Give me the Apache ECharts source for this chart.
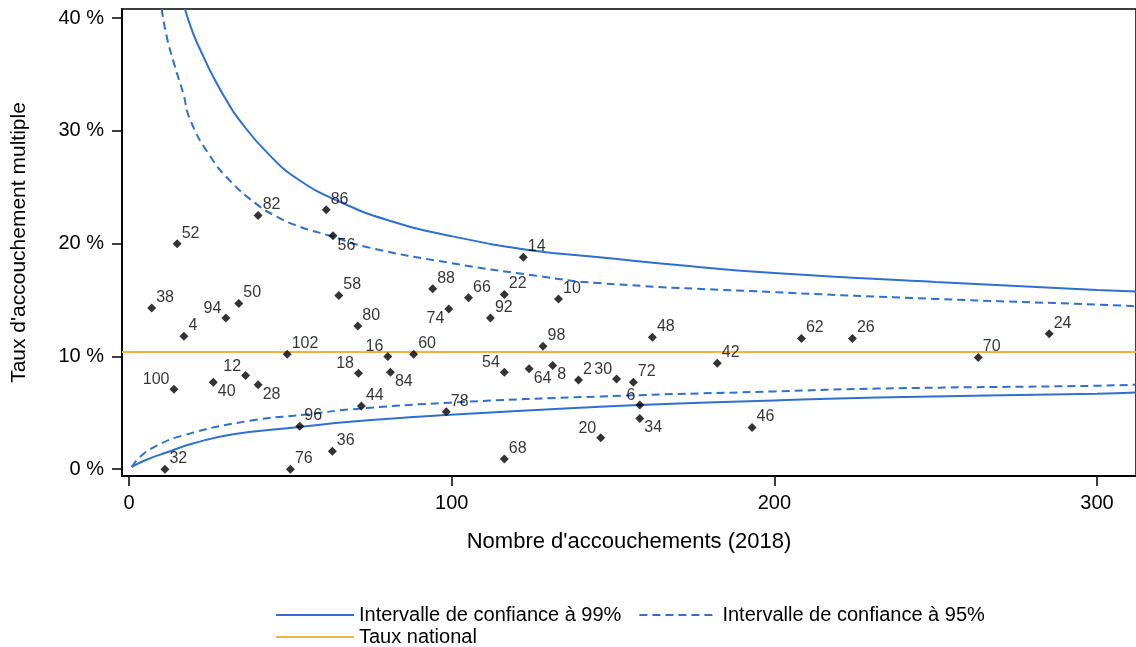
<!DOCTYPE html>
<html>
<head>
<meta charset="utf-8">
<script src="https://cdn.jsdelivr.net/npm/echarts@6/dist/echarts.min.js"></script>
<style>html,body{margin:0;padding:0;background:#fff;}#c{width:1136px;height:647px;}</style>
</head>
<body>
<div id="c"></div>
<script>
// ---- data ----
const xTicks = [0, 100, 200, 300];
const yTicks = [0, 10, 20, 30, 40];
const yTickLabels = ['0 %', '10 %', '20 %', '30 %', '40 %'];

const ids    = [82,86,52,56,38,94,50,58,4,102,100,40,12,28,96,32,76,36,14,88,66,22,10,74,92,80,16,60,18,84,98,54,64,8,2,44,78,68,48,62,26,42,30,72,6,34,20,46,70,24];
const births = [40.0,61.1,14.9,63.2,7.0,30.0,34.0,65.0,17.0,49.0,13.9,26.1,36.1,40.0,52.9,11.1,50.0,63.0,122.2,94.1,105.2,116.3,133.1,99.1,112.0,70.9,80.2,88.2,71.1,81.0,128.3,116.3,124.0,131.3,139.3,72.0,98.3,116.3,162.2,208.4,224.2,182.3,151.1,156.3,158.3,158.3,146.2,193.1,263.2,285.2];
const rates  = [22.5,23.0,20.0,20.7,14.3,13.4,14.7,15.4,11.8,10.2,7.1,7.7,8.3,7.5,3.8,0.0,0.0,1.6,18.8,16.0,15.2,15.5,15.1,14.2,13.4,12.7,10.0,10.2,8.5,8.6,10.9,8.6,8.9,9.2,7.9,5.6,5.1,0.9,11.7,11.6,11.6,9.4,8.0,7.7,5.7,4.5,2.8,3.7,9.9,12.0];
const labelSide = ['ur','ur','ur','dr','ur','ul','ur','ur','ur','ur','ul','dr','ul','dr','ur','ur','ur','ur','ur','ur','ur','ur','ur','dl','ur','ur','ul','ur','ul','dr','ur','ul','dr','dr','ur','ur','ur','ur','ur','ur','ur','ur','ul','ur','ul','dr','ul','ur','ur','ur'];

const nationalRate = 10.4;

const upper99 = [[17.3,40.8],[19.9,38.6],[23.0,36.6],[26.6,34.5],[30.2,32.7],[33.8,31.1],[43,28.0],[52.9,25.6],[66.2,23.6],[80,22.1],[99.3,20.7],[125,19.4],[145.7,18.8],[170,18.1],[200,17.4],[250,16.6],[300,15.9],[312,15.75]];
const lower99 = [[0.8,0.2],[5,0.8],[11.7,1.5],[20,2.3],[32.3,3.1],[52.9,3.75],[68.4,4.2],[98.3,4.8],[139.5,5.45],[158,5.7],[200,6.1],[232,6.35],[300,6.7],[312,6.8]];
const upper95 = [[10.1,40.8],[11.7,38.3],[14.2,35.7],[16.8,33.3],[18.9,31.0],[25,27.8],[31.2,25.6],[39.5,23.5],[45.7,22.4],[52.9,21.5],[62.2,20.7],[73.6,19.7],[99.3,18.3],[125,17.2],[145.7,16.5],[200,15.7],[250,15.1],[300,14.6],[312,14.45]];
const lower95 = [[0.8,0.2],[3.4,1.1],[8,2.0],[16.7,3.0],[37.4,4.3],[55,4.85],[68.4,5.3],[99.3,5.9],[145.7,6.45],[200,6.9],[232,7.15],[300,7.4],[312,7.5]];

// ---- chart ----
const xMin = -2.2, xMax = 312.1, yMin = -0.6, yMax = 40.8;
const FONT = 'Liberation Sans, Arial, sans-serif';
const BLUE = '#2f6fcf', ORANGE = '#f2b43a';
const NOFILL = 'rgba(0,0,0,0)';

const sideStyle = {
  ur: {position: [9, -6], align: 'left', verticalAlign: 'middle'},
  ul: {position: [0, -5], align: 'right', verticalAlign: 'middle'},
  dr: {position: [9, 14], align: 'left', verticalAlign: 'middle'},
  dl: {position: [0, 14], align: 'right', verticalAlign: 'middle'}
};

const points = ids.map((id, i) => ({
  name: String(id),
  value: [births[i], rates[i]],
  label: Object.assign({show: true}, sideStyle[labelSide[i]])
}));

const N99 = 'Intervalle de confiance à 99%';
const N95 = 'Intervalle de confiance à 95%';
const NNat = 'Taux national';

const lineBase = {type: 'line', symbol: 'none', smooth: 0.5, silent: true, animation: false, z: 2};

const chart = echarts.init(document.getElementById('c'), null, {renderer: 'canvas'});
chart.setOption({
  animation: false,
  backgroundColor: '#fff',
  textStyle: {fontFamily: FONT, color: '#000'},
  grid: {left: 122, right: -2, top: 9, bottom: 171, show: true, borderColor: '#000', borderWidth: 1.5, backgroundColor: 'transparent'},
  legend: [
    {data: [N99, N95], left: 270, top: 600, itemWidth: 78, itemHeight: 14, itemGap: 17,
     itemStyle: {opacity: 0, color: NOFILL, borderColor: NOFILL},
     textStyle: {fontFamily: FONT, fontSize: 20, color: '#000'}, selectedMode: false},
    {data: [NNat], left: 270, top: 622, itemWidth: 78, itemHeight: 14,
     itemStyle: {opacity: 0, color: NOFILL, borderColor: NOFILL},
     textStyle: {fontFamily: FONT, fontSize: 20, color: '#000'}, selectedMode: false}
  ],
  xAxis: {
    type: 'value', min: xMin, max: xMax,
    name: "Nombre d'accouchements (2018)", nameLocation: 'middle', nameGap: 55,
    nameTextStyle: {fontFamily: FONT, fontSize: 22, color: '#000'},
    axisLine: {show: true, onZero: false, lineStyle: {color: '#000', width: 1.8}},
    axisTick: {show: true, length: 10, lineStyle: {color: '#000', width: 1.5}, customValues: xTicks},
    axisLabel: {fontFamily: FONT, fontSize: 20, color: '#000', margin: 17, customValues: xTicks},
    splitLine: {show: false}
  },
  yAxis: {
    type: 'value', min: yMin, max: yMax,
    name: "Taux d'accouchement multiple", nameLocation: 'middle', nameGap: 92,
    nameTextStyle: {fontFamily: FONT, fontSize: 21, color: '#000'},
    axisLine: {show: true, onZero: false, lineStyle: {color: '#000', width: 1.8}},
    axisTick: {show: true, length: 10, lineStyle: {color: '#000', width: 1.5}, customValues: yTicks},
    axisLabel: {fontFamily: FONT, fontSize: 20, color: '#000', margin: 18, customValues: yTicks,
      formatter: v => { const k = yTicks.indexOf(v); return k >= 0 ? yTickLabels[k] : ''; }},
    splitLine: {show: false}
  },
  series: [
    Object.assign({}, lineBase, {name: N99, data: upper99, lineStyle: {color: BLUE, width: 2}}),
    Object.assign({}, lineBase, {name: N95, data: upper95, lineStyle: {color: BLUE, width: 2, type: [8, 5]}}),
    Object.assign({}, lineBase, {name: N99, data: lower99, lineStyle: {color: BLUE, width: 2}}),
    Object.assign({}, lineBase, {name: N95, data: lower95, lineStyle: {color: BLUE, width: 2, type: [8, 5]}}),
    Object.assign({}, lineBase, {name: NNat, smooth: false, data: [[xMin, nationalRate], [xMax, nationalRate]], lineStyle: {color: ORANGE, width: 2}}),
    {
      type: 'scatter', name: 'points', symbol: 'diamond', symbolSize: 9, z: 5, silent: true,
      itemStyle: {color: '#000'},
      label: {show: true, formatter: p => p.name, fontFamily: FONT, fontSize: 16, color: '#000'},
      labelLayout: {hideOverlap: false},
      data: points
    }
  ]
});
</script>
</body>
</html>
